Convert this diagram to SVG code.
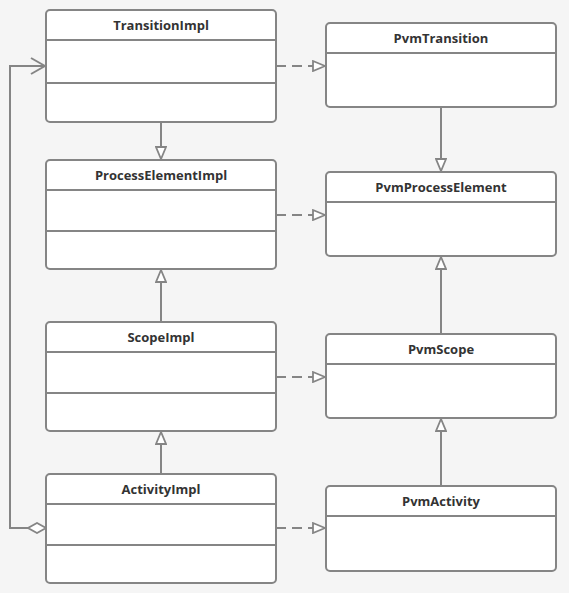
<svg xmlns="http://www.w3.org/2000/svg" width="569" height="593" viewBox="0 0 569 593">
  <style>
    .box { fill: #ffffff; stroke: #858585; stroke-width: 2; }
    .div { stroke: #858585; stroke-width: 2; }
    .title { font-family: "Open Sans", "Noto Sans", "Liberation Sans", sans-serif; font-size: 13px; font-weight: bold; fill: #333333; text-anchor: middle; }
    .edge { fill: none; stroke: #858585; stroke-width: 2; }
    .dash { stroke-dasharray: 10 6; }
  </style>
  <defs>
    <marker id="tri" viewBox="0 0 14 12" refX="13" refY="6" markerWidth="14" markerHeight="12" markerUnits="userSpaceOnUse" orient="auto">
      <path d="M1,1 L13,6 L1,11 Z" fill="#ffffff" stroke="#858585" stroke-width="1.8"/>
    </marker>
    <marker id="open" viewBox="0 0 16 18" refX="15" refY="9" markerWidth="16" markerHeight="18" markerUnits="userSpaceOnUse" orient="auto">
      <path d="M1,1 L15,9 L1,17" fill="none" stroke="#858585" stroke-width="2"/>
    </marker>
    <marker id="diamond" viewBox="0 0 20 12" refX="1" refY="6" markerWidth="20" markerHeight="12" markerUnits="userSpaceOnUse" orient="auto">
      <path d="M1,6 L10,1 L19,6 L10,11 Z" fill="#ffffff" stroke="#858585" stroke-width="1.8"/>
    </marker>
  </defs>
  <rect width="569" height="593" fill="#f5f5f5"/>

  <g id="connectors">
    <!-- realization (dashed) -->
    <path class="edge dash" d="M276,66 H325" marker-end="url(#tri)"/>
    <path class="edge dash" d="M276,215 H325" marker-end="url(#tri)"/>
    <path class="edge dash" d="M276,377 H325" marker-end="url(#tri)"/>
    <path class="edge dash" d="M276,528 H325" marker-end="url(#tri)"/>
    <!-- generalization -->
    <path class="edge" d="M161,122 V159" marker-end="url(#tri)"/>
    <path class="edge" d="M161,322 V270" marker-end="url(#tri)"/>
    <path class="edge" d="M161,474 V432" marker-end="url(#tri)"/>
    <path class="edge" d="M441,107 V171" marker-end="url(#tri)"/>
    <path class="edge" d="M441,334 V257" marker-end="url(#tri)"/>
    <path class="edge" d="M441,486 V419" marker-end="url(#tri)"/>
    <!-- aggregation ActivityImpl -> TransitionImpl -->
    <path class="edge" d="M46,528 H10 V66 H45" marker-start="url(#diamond)" marker-end="url(#open)"/>
  </g>

  <g id="TransitionImpl">
    <rect class="box" x="46" y="10" width="230" height="112" rx="4"/>
    <line class="div" x1="46" y1="40" x2="276" y2="40"/>
    <line class="div" x1="46" y1="83" x2="276" y2="83"/>
    <text class="title" x="161" y="30">TransitionImpl</text>
  </g>
  <g id="ProcessElementImpl">
    <rect class="box" x="46" y="160" width="230" height="109" rx="4"/>
    <line class="div" x1="46" y1="190" x2="276" y2="190"/>
    <line class="div" x1="46" y1="231" x2="276" y2="231"/>
    <text class="title" x="161" y="180">ProcessElementImpl</text>
  </g>
  <g id="ScopeImpl">
    <rect class="box" x="46" y="322" width="230" height="109" rx="4"/>
    <line class="div" x1="46" y1="352" x2="276" y2="352"/>
    <line class="div" x1="46" y1="393" x2="276" y2="393"/>
    <text class="title" x="161" y="342">ScopeImpl</text>
  </g>
  <g id="ActivityImpl">
    <rect class="box" x="46" y="474" width="230" height="109" rx="4"/>
    <line class="div" x1="46" y1="504" x2="276" y2="504"/>
    <line class="div" x1="46" y1="545" x2="276" y2="545"/>
    <text class="title" x="161" y="494">ActivityImpl</text>
  </g>
  <g id="PvmTransition">
    <rect class="box" x="326" y="23" width="230" height="84" rx="4"/>
    <line class="div" x1="326" y1="53" x2="556" y2="53"/>
    <text class="title" x="441" y="43">PvmTransition</text>
  </g>
  <g id="PvmProcessElement">
    <rect class="box" x="326" y="172" width="230" height="84" rx="4"/>
    <line class="div" x1="326" y1="202" x2="556" y2="202"/>
    <text class="title" x="441" y="192">PvmProcessElement</text>
  </g>
  <g id="PvmScope">
    <rect class="box" x="326" y="334" width="230" height="84" rx="4"/>
    <line class="div" x1="326" y1="364" x2="556" y2="364"/>
    <text class="title" x="441" y="354">PvmScope</text>
  </g>
  <g id="PvmActivity">
    <rect class="box" x="326" y="486" width="230" height="85" rx="4"/>
    <line class="div" x1="326" y1="516" x2="556" y2="516"/>
    <text class="title" x="441" y="506">PvmActivity</text>
  </g>
</svg>
